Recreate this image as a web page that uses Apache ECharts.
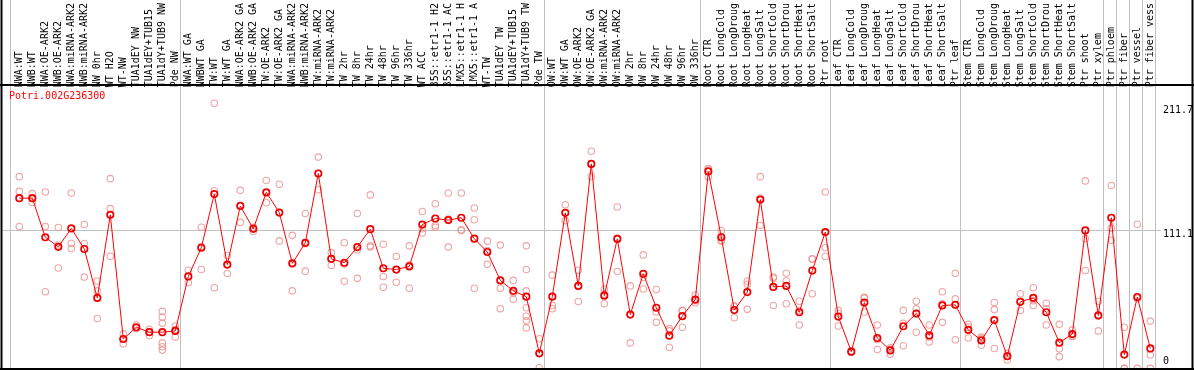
<!DOCTYPE html>
<html><head><meta charset="utf-8">
<script src="https://cdn.jsdelivr.net/npm/echarts@6/dist/echarts.min.js"></script>
<style>html,body{margin:0;padding:0;background:#fff;overflow:hidden}#c{width:1194px;height:370px}</style>
</head><body><div id="c"></div>
<script>
const chartTitle = 'Potri.002G236300';
const categories = [
'NWA:WT','NWB:WT','NWA:OE-ARK2','NWB:OE-ARK2','NWA:miRNA-ARK2','NWB:miRNA-ARK2','NW 0hr','WT H2O','WT-NW','TUA1dEY NW','TUA1dEY+TUB15','TUA1dY+TUB9 NW','Pde NW',
'NWA:WT GA','NWBWT GA','TW:WT','TW:WT GA','NWA:OE-ARK2 GA','NWB:OE-ARK2 GA','TW:OE-ARK2','TW:OE-ARK2 GA','NWA:miRNA-ARK2','NWB:miRNA-ARK2','TW:miRNA-ARK2','TW:miRNA-ARK2','TW 2hr','TW 8hr','TW 24hr','TW 48hr','TW 96hr','TW 336hr','WT ACC','35S::etr1-1 H2','35S::etr1-1 AC','LMX5::etr1-1 H','LMX5::etr1-1 A','WT-TW','TUA1dEY TW','TUA1dEY+TUB15','TUA1dY+TUB9 TW','Pde TW',
'OW:WT','OW:WT GA','OW:OE-ARK2','OW:OE-ARK2 GA','OW:miRNA-ARK2','OW:miRNA-ARK2','OW 2hr','OW 8hr','OW 24hr','OW 48hr','OW 96hr','OW 336hr',
'Root CTR','Root LongCold','Root LongDroug','Root LongHeat','Root LongSalt','Root ShortCold','Root ShortDrou','Root ShortHeat','Root ShortSalt','Ptr root',
'Leaf CTR','Leaf LongCold','Leaf LongDroug','Leaf LongHeat','Leaf LongSalt','Leaf ShortCold','Leaf ShortDrou','Leaf ShortHeat','Leaf ShortSalt','Ptr leaf',
'Stem CTR','Stem LongCold','Stem LongDroug','Stem LongHeat','Stem LongSalt','Stem ShortCold','Stem ShortDrou','Stem ShortHeat','Stem ShortSalt','Ptr shoot','Ptr xylem',
'Ptr phloem','Ptr fiber','Ptr vessel','Ptr fiber vess'
];
const means = [
136.3,136.3,105.3,97.7,112.3,96.0,57.2,123.1,24.6,33.9,30.0,30.0,31.0,
74.2,97.0,139.6,83.6,130.1,112.0,141.0,124.9,84.6,100.9,155.9,88.2,85.1,97.5,111.7,80.7,79.7,82.2,115.4,120.2,118.9,120.8,104.2,93.6,71.1,62.8,58.2,13.2,
58.2,124.7,66.7,163.5,59.0,104.0,44.0,76.3,49.4,27.2,42.7,55.9,
157.5,105.3,47.6,61.8,135.2,65.9,66.7,45.8,78.9,109.4,
42.4,14.5,53.5,25.4,15.5,34.7,44.8,27.4,51.2,51.7,
31.8,23.5,39.6,10.9,54.1,57.2,45.8,21.7,28.5,110.7,43.2,
120.8,12.2,57.9,17.1
];
const replicates = [
[153.4,141.7,113.8],[139.9,132.9,136.1],[141.2,113.8,62.1],[113.0,80.9,99.2],[140.4,100.3,96.4],[115.4,100.3,73.7],[70.6,62.8,40.9],[151.8,128.0,90.2],[28.7,20.7,24.4],[35.7,33.1,32.9],[32.3,27.2,30.5],[46.5,42.1,37.0,21.5,18.4,15.8],[34.9,26.1,32.0],
[79.1,69.3,74.2],[113.3,79.7,98.0],[211.6,142.2,65.2],[90.8,76.6,83.4],[142.5,117.1,130.7],[113.3,109.9,112.8],[150.3,132.7,140.0],[147.4,102.4,125.0],[106.8,62.8,84.2],[124.1,78.4,100.2],[168.9,143.0,155.8],[93.1,83.0,88.5],[100.9,70.4,84.0],[124.1,95.2,72.7],[138.9,98.5,97.5],[99.8,74.2,65.7],[90.0,69.6,79.5],[98.5,64.9,83.2],[125.7,108.6,112.0],[131.9,114.6,113.3],[140.4,119.7,97.5],[140.4,110.7,111.3],[128.5,119.2,64.9],[102.2,83.8,94.8],[99.1,64.9,48.6],[71.1,56.1,61.2],[98.5,79.7,62.8,49.4,42.7,39.0,33.4],[24.8,1.8,13.0],
[75.3,51.2,48.6],[131.1,118.5,124.5],[79.1,54.3,66.7],[173.5,153.4,163.5],[64.2,52.5,60.3],[129.3,78.1,104.5],[66.7,21.5,44.0],[91.3,64.2,73.5],[63.9,46.0,37.8],[32.8,17.8,31.0],[47.3,33.9,47.0],[59.5,53.3,55.0],
[159.8,153.4,159.3],[110.7,102.2,103.0],[50.4,41.4,51.0],[70.6,68.0,48.1],[153.4,136.5,114.6],[73.7,51.2,72.8],[76.8,70.6,52.5],[54.5,35.7,47.2],[87.9,60.5,88.3],[141.2,97.0,90.0],
[47.3,34.9,45.0],[15.0,14.0,14.5],[57.6,46.0,57.0],[35.7,16.3,24.2],[12.4,17.6,16.5],[47.3,37.0,19.2],[54.5,48.6,30.0],[35.7,26.1,22.3],[62.1,52.5,37.8],[76.8,56.4,24.0],
[36.2,25.4,34.0],[26.1,19.6,25.0],[53.5,47.9,17.1],[13.2,8.0,11.5],[60.5,47.3,54.5],[65.2,51.2,55.0],[53.0,48.6,35.7],[36.2,16.8,10.6],[31.8,26.6,27.0],[150.0,104.2,78.9],[54.5,31.0,44.0],
[146.4,112.5,102.9],[33.9,1.3,1.4],[115.6,1.3,56.8],[38.8,11.9,1.3]
];
const yTickValues = [211.7, 111.1, 0];
const yTickLabels = ['211.7', '111.1', '0'];
const groupLastIndex = [12, 40, 52, 62, 72, 83, 84, 85, 86, 87];
const midLineValue = 111.1;

const FONT = '"DejaVu Sans Mono", monospace';
const chart = echarts.init(document.getElementById('c'), null, {renderer: 'canvas'});
const repPoints = [];
replicates.forEach((arr, i) => arr.forEach(v => repPoints.push([i, v])));

chart.setOption({
  animation: false,
  grid: {left: 12.8, top: 85, width: 1144, height: 286},
  xAxis: {
    type: 'category', data: categories, position: 'top', boundaryGap: true,
    axisLine: {show: false}, axisTick: {show: false}, splitLine: {show: false},
    axisLabel: {interval: 0, rotate: 90, margin: 3, fontFamily: FONT, fontSize: 10, color: '#000'}
  },
  yAxis: {type: 'value', min: 0, max: 221.9, show: false},
  series: [
    {type: 'scatter', data: repPoints, symbol: 'circle', symbolSize: 6.5, z: 2,
     itemStyle: {color: 'rgba(0,0,0,0)', borderColor: '#e98f8f', borderWidth: 1.1}},
    {type: 'line', data: means, symbol: 'circle', symbolSize: 6.5, showSymbol: true, z: 3,
     lineStyle: {color: '#ff0000', width: 1},
     itemStyle: {color: 'rgba(0,0,0,0)', borderColor: '#ee0000', borderWidth: 1.7}}
  ]
});

const px = i => chart.convertToPixel({xAxisIndex: 0}, i);
const py = v => chart.convertToPixel({yAxisIndex: 0}, v);
const gray = '#c0c0c0';
const els = [];
const vline = (x, color, w, z) => els.push({type: 'line', z: z, shape: {x1: x, y1: 0, x2: x, y2: 370}, style: {stroke: color, lineWidth: w}});
vline(Math.round(px(0) - 9) + 0.5, gray, 1, 0);
groupLastIndex.forEach(i => vline(Math.round(px(i) + 5) + 0.5, gray, 1, 0));
const ym = Math.round(py(midLineValue)) + 0.5;
els.push({type: 'line', z: 0, shape: {x1: 2, y1: ym, x2: 1161, y2: ym}, style: {stroke: gray, lineWidth: 1}});
// frame
els.push({type: 'line', z: 10, shape: {x1: 0, y1: 85, x2: 1194, y2: 85}, style: {stroke: '#000', lineWidth: 2}});
els.push({type: 'line', z: 10, shape: {x1: 0, y1: 369, x2: 1194, y2: 369}, style: {stroke: '#000', lineWidth: 2}});
vline(1.5, '#000', 2, 10);
vline(1192.5, '#000', 2, 10);
// title
els.push({type: 'text', z: 10, x: 9, y: 96, style: {text: chartTitle, fill: '#ff0000', font: '10px ' + FONT, verticalAlign: 'middle', align: 'left'}});
// y labels
const nudge = [7.5, 4.5, -9];
yTickValues.forEach((v, k) => {
  els.push({type: 'text', z: 10, x: 1163, y: py(v) + nudge[k], style: {text: yTickLabels[k], fill: '#000', font: '10px ' + FONT, verticalAlign: 'middle', align: 'left'}});
});
chart.setOption({graphic: {elements: els}});
</script>
</body></html>
